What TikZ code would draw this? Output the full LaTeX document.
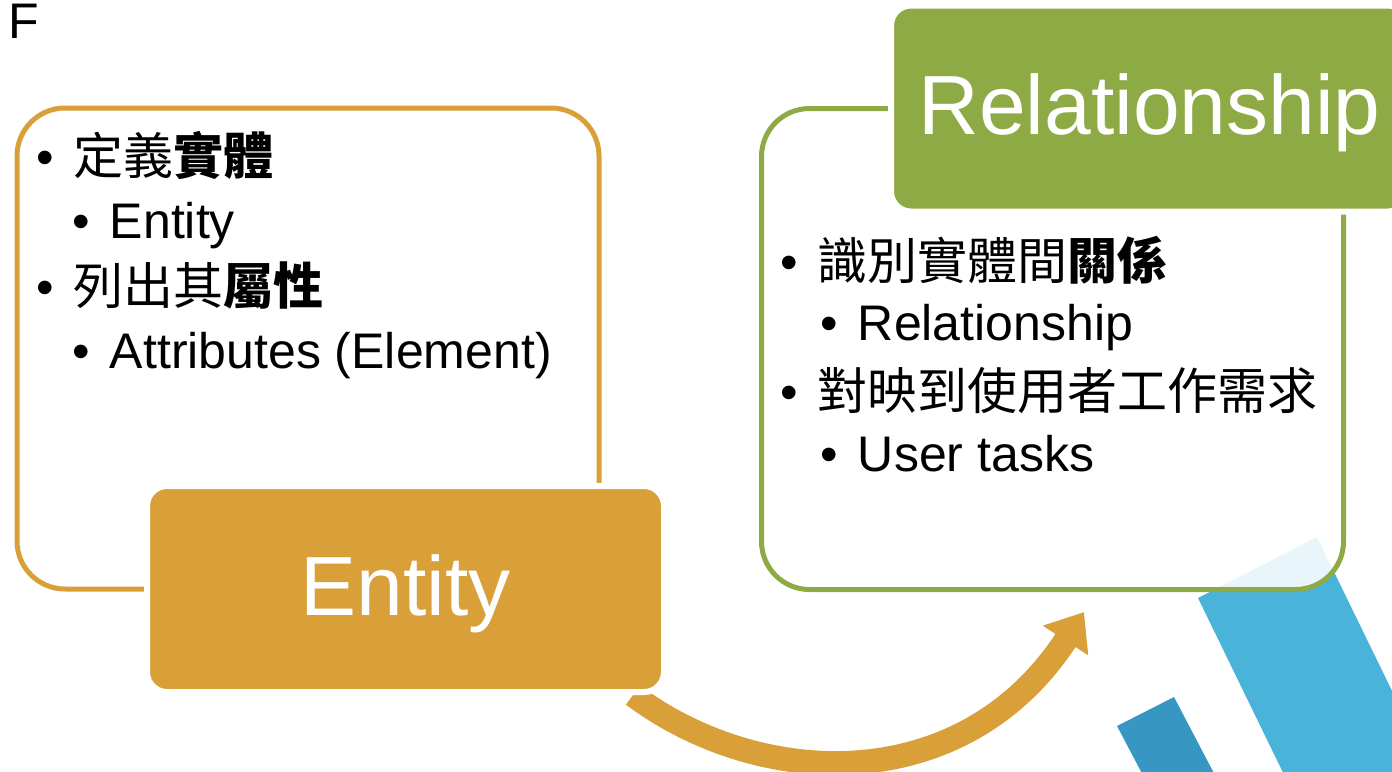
\documentclass[tikz,border=0pt]{standalone}
\usepackage{fontspec}
\setmainfont{Liberation Sans}
\newfontfamily\cjk{Noto Sans CJK TC}
\usetikzlibrary{positioning,arrows.meta,backgrounds}
\definecolor{ent orange}{HTML}{D9A03A}
\definecolor{rel green}{HTML}{8DAA44}
\definecolor{sky blue}{HTML}{4AB3D9}
\definecolor{deep blue}{HTML}{3796C2}
\newcommand{\itembul}{\textbullet\hspace{10pt}}
\tikzset{panel/.style={draw=#1, line width=2.5pt, rounded corners=24pt, fill=white, fill opacity=0.88,
      minimum width=291pt, minimum height=240.5pt, inner sep=0pt},
    tag/.style={fill=#1, draw=white, line width=3pt, rounded corners=10pt,
      minimum width=258.5pt, minimum height=103pt, inner sep=0pt},
    title/.style={text=white, font=\fontsize{42}{50}\selectfont, inner sep=0pt, anchor=base},
    item/.style={font=\fontsize{25}{30}\selectfont, inner sep=0pt, anchor=base west},
    flow/.style={draw=ent orange, line width=12pt, -{Triangle[length=17pt,width=26pt]}}}

\begin{document}
\begin{tikzpicture}[x=0.5pt,y=-0.5pt]
\useasboundingbox (0,0) rectangle (1392,771);
\clip (0,0) rectangle (1392,771);
% stripes in the corner
\fill[sky blue] (1198,598) -- (1317,537) -- (1494,900) -- (1345,900) -- cycle;
\fill[deep blue] (1117,726) -- (1174,697) -- (1228,800) -- (1156,800) -- cycle;
\node[item] (mark) at (8,39) {F};
% panels
\node[panel=ent orange] (entP) at (308,348.5) {};
\node[panel=rel green] (relP) at (1052.5,349) {};
\node[tag=ent orange] (ent) at (405.5,589) {};
\node[title] (entT) at ([yshift=-13pt]ent.center) {Entity};
\node[tag=rel green] (rel) at (1149.5,108.5) {};
\node[title] (relT) at ([yshift=-13pt]rel.center) {Relationship};
% items
\node[item] (e1) at (36,174) {\itembul\cjk 定義\textbf{實體}};
\node[item] (e2) at (72,238) {\itembul Entity};
\node[item] (e3) at (36,304) {\itembul\cjk 列出其\textbf{屬性}};
\node[item] (e4) at (72,368) {\itembul Attributes (Element)};
\node[item] (r1) at (780,279) {\itembul\cjk 識別實體間\textbf{關係}};
\node[item] (r2) at (820,340) {\itembul Relationship};
\node[item] (r3) at (780,409) {\itembul\cjk 對映到使用者工作需求};
\node[item] (r4) at (820,471) {\itembul User tasks};
% arrow
\coordinate (tip) at (1084,612);
\begin{pgfonlayer}{background}
\draw[flow] ([xshift=-17pt]ent.south east) .. controls (760,790) and (963,798) .. (tip);
\end{pgfonlayer}
\end{tikzpicture}
\end{document}
